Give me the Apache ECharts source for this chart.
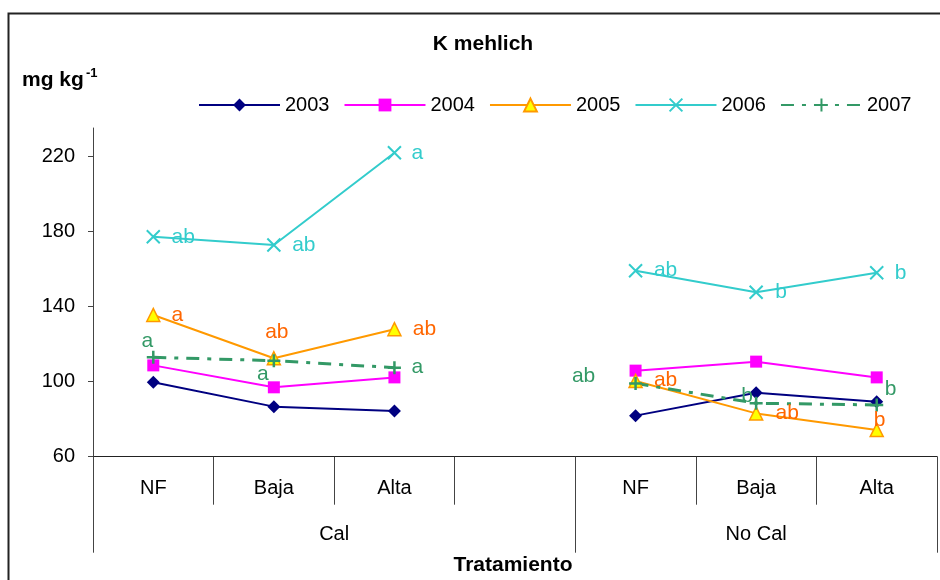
<!DOCTYPE html>
<html>
<head>
<meta charset="utf-8">
<script src="https://cdn.jsdelivr.net/npm/echarts@6/dist/echarts.min.js"></script>
<style>
  html, body { margin: 0; padding: 0; background: #ffffff; }
  #chart { width: 940px; height: 580px; }
</style>
</head>
<body>
<div id="chart"></div>
<script>
// Treatment categories (blank slot separates the two liming groups)
const categories = ['NF', 'Baja', 'Alta', '', 'NF', 'Baja', 'Alta'];
const groups = ['Cal', 'No Cal'];
const years = ['2003', '2004', '2005', '2006', '2007'];
const yTicks = [60, 100, 140, 180, 220];

// K Mehlich (mg kg-1) per year
const k2003 = [99.7, 86.7, 84.4, null, 81.9, 94.1, 89.3];
const k2004 = [108.7, 97.0, 102.3, null, 105.9, 110.7, 102.3];
const k2005 = [135.6, 112.5, 128.0, null, 100.4, 83.1, 74.2];
const k2006 = [177.3, 172.9, 222.1, null, 159.2, 147.7, 158.1];
const k2007 = [113.0, 111.2, 107.5, null, 99.1, 88.5, 87.6];

// Mean-separation letters
const sig2005 = ['a', 'ab', 'ab', null, 'ab', 'ab', 'b'];
const sig2006 = ['ab', 'ab', 'a', null, 'ab', 'b', 'b'];
const sig2007 = ['a', 'a', 'a', null, 'ab', 'b', 'b'];

// Where each letter sits relative to its marker (px)
const place2005 = [[24, 0], [3, -26], [30, 0], null, [30, -1], [31, 0], [3, -10]];
const place2006 = [[30, 0], [30, 0], [23, 0], null, [30, 0], [25, 0], [24, 0]];
const place2007 = [[-6, -16], [-11, 14], [23, 0], null, [-52, -7], [-9, -7], [14, -16]];

const FONT = 'Liberation Sans, Arial, sans-serif';

function withLetters(values, letters, places, color) {
  return values.map(function (v, i) {
    if (v === null) return null;
    if (!letters || !letters[i]) return v;
    return {
      value: v,
      label: {
        show: true,
        formatter: letters[i],
        position: 'inside',
        offset: places[i],
        color: color,
        fontSize: 21,
        fontFamily: FONT
      }
    };
  });
}

const crossPath = 'path://M0,0L10,10M10,0L0,10';
const plusPath = 'path://M5,0L5,10M0,5L10,5';

const chart = echarts.init(document.getElementById('chart'));

chart.setOption({
  animation: false,
  backgroundColor: '#ffffff',
  textStyle: { fontFamily: FONT },
  graphic: [
    {
      type: 'rect',
      shape: { x: 8.5, y: 13.5, width: 1200, height: 1200 },
      style: { fill: 'none', stroke: '#222', lineWidth: 2 },
      silent: true, z: -10
    },
    {
      type: 'text', x: 483, y: 44,
      style: { text: 'K mehlich', fontSize: 21, fontWeight: 'bold', fontFamily: FONT,
               fill: '#000', align: 'center', verticalAlign: 'middle' }
    },
    {
      type: 'text', x: 22, y: 80,
      style: { text: 'mg kg', fontSize: 21, fontWeight: 'bold', fontFamily: FONT,
               fill: '#000', align: 'left', verticalAlign: 'middle' }
    },
    {
      type: 'text', x: 86, y: 73,
      style: { text: '-1', fontSize: 13, fontWeight: 'bold', fontFamily: FONT,
               fill: '#000', align: 'left', verticalAlign: 'middle' }
    },
    {
      type: 'text', x: 513, y: 565,
      style: { text: 'Tratamiento', fontSize: 21, fontWeight: 'bold', fontFamily: FONT,
               fill: '#000', align: 'center', verticalAlign: 'middle' }
    }
  ],
  legend: {
    left: 193, top: 90,
    itemWidth: 81, itemHeight: 16, itemGap: 14,
    textStyle: { fontSize: 20, fontFamily: FONT, color: '#000' },
    data: years
  },
  grid: {
    left: 93, right: 3, top: 128, bottom: 123.3,
    containLabel: false, outerBoundsMode: 'none'
  },
  xAxis: [
    {
      type: 'category',
      data: categories,
      boundaryGap: true,
      axisLine: { show: true, lineStyle: { color: '#222', width: 1 } },
      axisTick: { show: true, interval: 0, length: 48, lineStyle: { color: '#444', width: 1 } },
      axisLabel: { interval: 0, margin: 22, fontSize: 20, color: '#000', fontFamily: FONT },
      splitLine: { show: false }
    },
    {
      type: 'value',
      position: 'bottom',
      min: 0, max: 7,
      axisLine: { show: false },
      axisTick: { show: true, customValues: [0, 4, 7], length: 96, lineStyle: { color: '#444', width: 1 } },
      axisLabel: {
        customValues: [2, 5.5], margin: 68, fontSize: 20, color: '#000', fontFamily: FONT,
        formatter: function (v) { return v < 4 ? groups[0] : groups[1]; }
      },
      splitLine: { show: false }
    }
  ],
  yAxis: {
    type: 'value',
    min: 60, max: 235.3, interval: 40,
    axisLine: { show: true, lineStyle: { color: '#444', width: 1 } },
    axisTick: { show: true, customValues: yTicks, length: 5, lineStyle: { color: '#444' } },
    axisLabel: { customValues: yTicks, margin: 18, fontSize: 20, color: '#000', fontFamily: FONT },
    splitLine: { show: false }
  },
  series: [
    {
      name: years[0], type: 'line', data: k2003, connectNulls: false,
      symbol: 'diamond', symbolSize: 13,
      lineStyle: { color: '#000080', width: 2 },
      itemStyle: { color: '#000080' }
    },
    {
      name: years[1], type: 'line', data: k2004, connectNulls: false,
      symbol: 'rect', symbolSize: 12,
      lineStyle: { color: '#FF00FF', width: 2 },
      itemStyle: { color: '#FF00FF' }
    },
    {
      name: years[2], type: 'line', data: withLetters(k2005, sig2005, place2005, '#FF6600'),
      connectNulls: false,
      symbol: 'triangle', symbolSize: 13,
      lineStyle: { color: '#FF9900', width: 2 },
      itemStyle: { color: '#FFFF00', borderColor: '#FF9900', borderWidth: 1.5 }
    },
    {
      name: years[3], type: 'line', data: withLetters(k2006, sig2006, place2006, '#33CCCC'),
      connectNulls: false,
      symbol: crossPath, symbolSize: 13,
      lineStyle: { color: '#33CCCC', width: 2 },
      itemStyle: { color: '#33CCCC', borderColor: '#33CCCC', borderWidth: 2 }
    },
    {
      name: years[4], type: 'line', data: withLetters(k2007, sig2007, place2007, '#339966'),
      connectNulls: false,
      symbol: plusPath, symbolSize: 13,
      lineStyle: { color: '#339966', width: 3, type: [13, 8, 4, 8] },
      itemStyle: { color: '#339966', borderColor: '#339966', borderWidth: 2.5 }
    }
  ]
});
</script>
</body>
</html>
